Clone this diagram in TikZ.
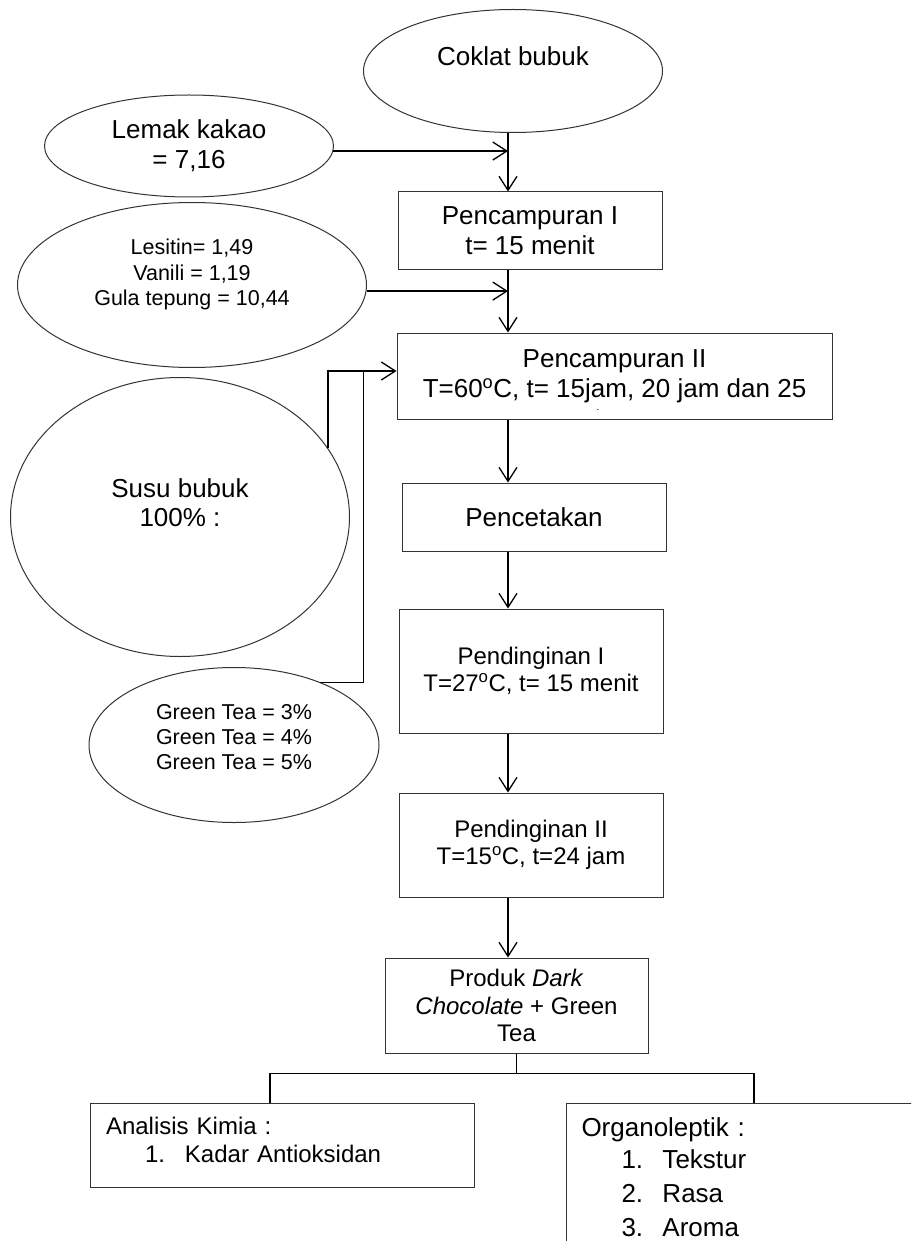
\documentclass[tikz,border=0pt]{standalone}
\usepackage{fontspec}
\setmainfont{Liberation Sans}
\usetikzlibrary{arrows.meta,shapes.geometric}

\begin{document}
\begin{tikzpicture}[x=1pt,y=-1pt,
    every node/.style={font=\fontsize{26}{30}\selectfont},
    proses/.style={draw=black!80,line width=1pt,inner sep=0pt,align=center},
    proseskecil/.style={proses,font=\fontsize{24}{27.5}\selectfont},
    bahan/.style={draw=black!80,ellipse,line width=1pt,inner sep=0pt,align=center},
    bahankecil/.style={bahan,font=\fontsize{21.5}{25.5}\selectfont},
    panah/.style={-{Straight Barb[length=14pt,width=18pt]},line width=1.3pt},
    garis/.style={line width=1.3pt}]
  \useasboundingbox (0,0) rectangle (911,1241);
  \clip (0,0) rectangle (911,1241);
  \coordinate (jalur) at (508,0);

  %% Bahan
  \node[bahan,minimum width=299,minimum height=123] (coklat) at (513,71)
        {Coklat bubuk\\\mbox{}};
  \node[bahan,minimum width=289,minimum height=102] (lemak) at (189,146)
        {Lemak kakao\\= 7,16};
  \node[bahankecil,minimum width=349,minimum height=165] (lesitin) at (192,285)
        {Lesitin= 1,49\\Vanili = 1,19\\Gula tepung = 10,44\\\mbox{}};
  \node[bahan,minimum width=339,minimum height=279,font=\fontsize{26}{29}\selectfont] (susu) at (180,517)
        {Susu bubuk\\100\% :\\\mbox{}};
  \node[bahankecil,minimum width=290,minimum height=155,font=\fontsize{21.5}{25}\selectfont] (hijau) at (234,745)
        {Green Tea = 3\%\\Green Tea = 4\%\\Green Tea = 5\%\\[-9pt]\mbox{}};

  %% Proses
  \node[proses,minimum width=264,minimum height=77] (pc1) at (530,230.5)
        {Pencampuran I\\t= 15 menit};
  \node[proses,minimum width=435,minimum height=86] (pc2) at (614.5,376)
        {Pencampuran II\\T=60\textsuperscript{o}C, t= 15jam, 20 jam dan 25};
  \node[font=\fontsize{10}{10}\selectfont,inner sep=0pt] (titik) at (598,410) {.};
  \node[proses,minimum width=264,minimum height=68] (cetak) at (534,517)
        {Pencetakan};
  \node[proseskecil,minimum width=264,minimum height=124] (pend1) at (531,671)
        {Pendinginan I\\T=27\textsuperscript{o}C, t= 15 menit};
  \node[proseskecil,minimum width=264,minimum height=104] (pend2) at (531,845)
        {Pendinginan II\\T=15\textsuperscript{o}C, t=24 jam};
  \node[proseskecil,minimum width=263,minimum height=95] (produk) at (516.5,1005.5)
        {Produk \textit{Dark}\\\textit{Chocolate} + Green\\Tea};

  %% Analisis
  \node[proseskecil,align=left,minimum width=384,minimum height=84,inner xsep=16pt,
        text width=352pt,font=\fontsize{24}{28}\selectfont] (analisis) at (282,1145)
        {Analisis Kimia :\\\hspace*{39pt}\makebox[40pt][l]{1.}Kadar Antioksidan\\[-18pt]\mbox{}};
  \node[proses,align=left,anchor=north west,inner xsep=15pt,inner ysep=14pt,
        text width=420pt,font=\fontsize{26}{34}\selectfont] (organo) at (566,1103)
        {Organoleptik :\\[-2pt]\hspace*{40pt}\makebox[41pt][l]{1.}Tekstur\\
         \hspace*{40pt}\makebox[41pt][l]{2.}Rasa\\
         \hspace*{40pt}\makebox[41pt][l]{3.}Aroma};

  %% Panah
  \draw[panah] (coklat.south -| jalur) -- (pc1.north -| jalur);
  \draw[panah] (lemak.358) -- (lemak.358 -| jalur);
  \draw[panah] (pc1.south -| jalur) -- (pc2.north -| jalur);
  \draw[panah] (lesitin.358) -- (lesitin.358 -| jalur);
  \draw[panah] (susu.25) |- ([yshift=5pt]pc2.west);
  \draw[garis] (hijau.36) -| ([xshift=-33pt,yshift=5pt]pc2.west);
  \draw[panah] (pc2.south -| jalur) -- (cetak.north -| jalur);
  \draw[panah] (cetak.south -| jalur) -- (pend1.north -| jalur);
  \draw[panah] (pend1.south -| jalur) -- (pend2.north -| jalur);
  \draw[panah] (pend2.south -| jalur) -- (produk.north -| jalur);

  %% Cabang
  \coordinate (cabang) at ([yshift=-20pt]produk.south);
  \draw[garis] (produk.south) -- (cabang);
  \draw[garis] ([xshift=-12pt]analisis.north) |- (cabang) -| ([xshift=188pt]organo.north west);
\end{tikzpicture}
\end{document}
